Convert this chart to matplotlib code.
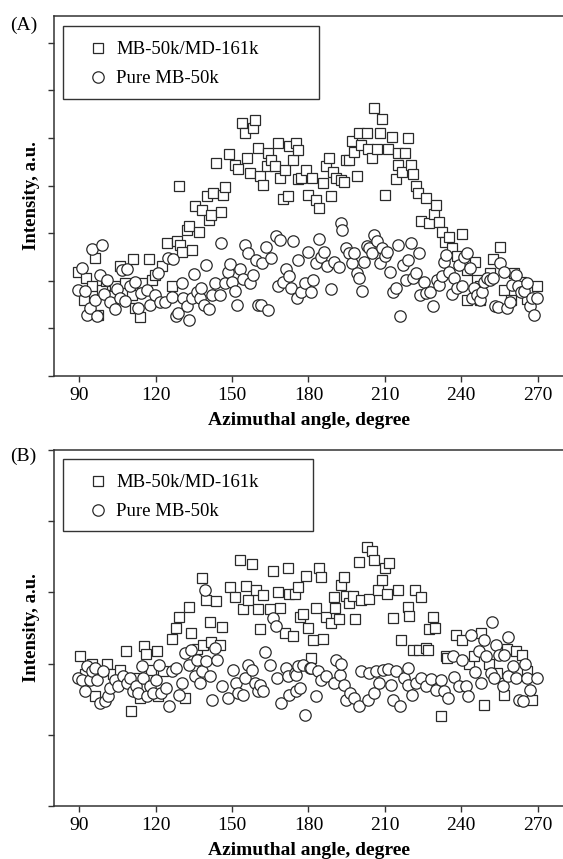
import matplotlib
matplotlib.use("Agg")
import matplotlib.pyplot as plt
from matplotlib.lines import Line2D
from matplotlib.patches import Rectangle

plt.rcParams['font.family'] = ['Liberation Serif', 'DejaVu Serif']

# ---------------- Panel A data ----------------
a_sq_angle = [89.4, 91.6, 92.7, 94.9, 96.2, 97.4, 98.8, 100.5, 102, 104, 106, 108, 110.6, 111, 111.9, 113.9,
              114.6, 117.2, 118.5, 119.8, 122.4, 124.4, 126.4, 128.4, 129.1, 129.7, 130.4, 132.3, 133, 134.3,
              135.3, 136.9, 138.3, 140, 141, 141.6, 142.6, 143.8, 145.5, 146.3, 147.1, 148.8, 151.1, 152.4,
              153.7, 155, 155.7, 157, 158.3, 159, 160.2, 160.9, 162.2, 163.5, 164.1, 165.4, 166.7, 168, 168.8,
              170, 170.6, 172, 172.4, 173.9, 175, 175.9, 175.9, 177, 178.9, 179.8, 181.5, 183.1, 184.1, 185.7,
              187, 188, 188.9, 189.6, 190.9, 192.8, 194.1, 194.7, 196, 197.1, 198, 198.9, 200, 200.6, 202.8,
              203.2, 205, 205.9, 207, 207.9, 208.9, 209.9, 211.2, 212.9, 214.3, 215.2, 215.2, 216.9, 218.1,
              219.2, 220.1, 221.2, 222.2, 223.1, 224.2, 226.1, 227.4, 229.2, 230, 231.3, 232.3, 233.5, 235.3,
              236.2, 238.2, 240.2, 242.2, 242.2, 245.3, 246.2, 247.4, 247.4, 251.5, 252.6, 255.4, 256.7, 259.5,
              260.6, 263.4, 266, 269.9]
a_sq_int = [2.19, 1.60, 2.05, 1.88, 2.47, 1.28, 1.81, 2.00, 1.70, 1.90, 2.30, 1.95, 1.70, 2.45, 1.42, 1.23,
            1.95, 2.45, 2.02, 2.12, 2.30, 2.79, 1.88, 2.84, 3.98, 2.75, 2.61, 3.07, 3.14, 2.65,
            3.56, 3.03, 3.49, 3.78, 3.28, 3.38, 3.85, 4.48, 3.45, 3.80, 3.96, 4.66, 4.43, 4.34,
            5.31, 5.11, 4.57, 4.26, 5.20, 5.38, 4.78, 4.19, 4.01, 4.40, 4.68, 4.54, 4.40, 4.90, 4.15,
            3.71, 4.33, 3.77, 4.82, 4.54, 4.89, 4.75, 4.13, 4.15, 4.33, 3.80, 4.15, 3.70, 3.52, 4.05,
            4.40, 4.57, 3.77, 4.29, 4.15, 4.12, 4.08, 4.54, 4.54, 4.93, 4.71, 4.19, 5.10, 4.85, 5.11,
            4.76, 4.57, 5.62, 4.76, 5.10, 5.40, 3.80, 4.76, 5.01, 4.13, 4.68, 4.43, 4.29, 4.69,
            4.99, 4.43, 4.24, 3.98, 3.85, 3.26, 3.73, 3.21, 3.40, 3.59, 3.24, 3.03, 2.82, 2.91,
            2.68, 2.51, 2.98, 2.23, 1.60, 2.40, 2.02, 1.60, 1.88, 2.16, 2.45, 2.70, 1.81, 1.60,
            2.16, 1.98, 1.61, 1.88]

a_ci_angle = [89.5, 90.9, 92.2, 92.9, 94.2, 94.9, 96.2, 97, 98.1, 99, 99.8, 100.7, 102, 104, 104.9, 106.1,
              106.6, 108, 108.8, 110, 112, 112.9, 114, 116.4, 117.7, 119.7, 121, 121.8, 123.7, 124.9, 126.4,
              126.9, 128, 128.8, 130.1, 130.7, 132.1, 133, 134.1, 135.1, 136, 137.3, 137.9, 138.9, 139.9, 141,
              141.9, 143.2, 145.2, 145.8, 147.1, 148.4, 149.1, 150.1, 151.1, 152.1, 153, 154.1, 155, 156.3,
              157.2, 158, 159.3, 160.2, 161.5, 161.9, 163.2, 164.1, 165.4, 167.1, 168, 168.9, 170, 171.3,
              172.3, 173.3, 173.9, 175.3, 175.9, 177.2, 178.5, 179.8, 181.1, 181.8, 183.1, 184.1, 185, 185.9,
              187.2, 188.9, 190.2, 191.9, 192.8, 193.2, 194.7, 196, 197.1, 198, 198.9, 200, 201.1, 201.9,
              202.8, 203.9, 205, 205.9, 207, 207.9, 209, 209.9, 210.8, 212.2, 213.2, 214.3, 215.2, 216.1,
              217.2, 218.3, 219.2, 220.1, 221.2, 222.2, 223.4, 224, 225.3, 226.3, 227.9, 229, 230.3, 231.3,
              232.3, 233.2, 234.2, 235.3, 236.2, 237.2, 238.2, 239.3, 240.2, 241.2, 242.2, 243.3, 244.2,
              245.1, 246.2, 247.2, 248.2, 249.1, 250.2, 251.5, 252.6, 253.4, 254.3, 255.4, 256.7, 257.8,
              259.1, 260.1, 261.4, 262.3, 263.4, 264.7, 266, 267.1, 268, 268.7, 269.7]
a_ci_int = [1.81, 2.27, 1.79, 1.28, 1.43, 2.67, 1.60, 1.25, 2.12, 2.75, 1.72, 2.02, 1.56, 1.41, 1.83, 1.64,
            2.23, 1.58, 2.24, 1.88, 1.98, 1.42, 1.74, 1.81, 1.49, 1.70, 2.17, 1.56, 1.56, 2.48, 1.66,
            2.46, 1.25, 1.32, 1.95, 1.64, 1.46, 1.18, 1.64, 2.14, 1.77, 1.64, 1.85, 1.49, 2.33, 1.41,
            1.70, 1.95, 1.70, 2.79, 1.95, 2.19, 2.35, 1.98, 1.79, 1.49, 2.25, 2.04, 2.75, 2.59,
            1.95, 2.12, 2.44, 1.49, 1.49, 2.37, 2.71, 1.39, 2.48, 2.94, 1.88, 2.86, 1.98, 2.25,
            2.10, 1.85, 2.84, 1.64, 2.44, 1.77, 1.95, 2.60, 1.77, 2.02, 2.37, 2.87, 2.49, 2.60,
            2.30, 1.82, 2.40, 2.28, 3.22, 3.07, 2.68, 2.58, 2.37, 2.58, 2.16, 2.05, 1.79, 2.40,
            2.73, 2.68, 2.58, 2.96, 2.84, 2.37, 2.68, 2.51, 2.61, 2.19, 1.77, 1.84, 2.75, 1.25,
            2.33, 2.02, 2.44, 2.79, 2.05, 2.17, 2.58, 1.70, 1.98, 1.75, 1.77, 1.47, 2.02, 1.91,
            2.09, 2.40, 2.54, 2.19, 1.72, 2.05, 1.84, 2.33, 1.88, 2.49, 2.58, 2.26, 1.63,
            1.84, 1.70, 1.60, 1.77, 1.98, 2.05, 2.02, 2.05, 1.47, 1.44, 2.37, 2.19, 1.42,
            1.56, 1.91, 2.12, 1.88, 1.77, 1.79, 1.95, 1.46, 1.63, 1.28, 1.63]

# ---------------- Panel B data ----------------
b_sq_angle = [90.2, 92, 95, 96.1, 98.5, 100.7, 103, 105.9, 108.2, 110.1, 112, 113.7, 115.3, 116.1, 118.3, 120.3,
              120.9, 123, 126.2, 128.1, 129.1, 131.4, 133.1, 134, 136, 138.2, 138.5, 139.9, 141.2, 141.8, 143.8,
              145.1, 146.2, 149, 151, 152.9, 154.2, 155.3, 156.2, 157.9, 159.5, 160.1, 161.1, 162.1, 164.7,
              166, 168, 168.9, 170.6, 171.9, 172.5, 173.9, 174.5, 175.8, 176.5, 178, 179.1, 179.9, 181.1,
              181.7, 183, 184, 185, 185.6, 186.9, 188.9, 190.2, 190.6, 191.9, 192.8, 194.1, 194.8, 196.1,
              197.4, 198.1, 200, 200.7, 202.9, 203.9, 205, 205.9, 207.2, 208.9, 210.2, 210.7, 211.8, 213.1,
              215, 216.3, 219, 219.6, 220.9, 222, 223.5, 224.2, 226.1, 226.8, 227.5, 228.8, 229.8, 232, 234,
              234.6, 237.9, 240.5, 243, 245, 247.7, 249.1, 251, 254.2, 256.9, 258, 261.5, 263.8, 266, 267.8]
b_sq_int = [2.10, 1.85, 2.00, 1.54, 1.90, 2.00, 1.85, 1.91, 2.18, 1.33, 1.80, 1.51, 2.25, 2.14, 1.91, 2.18,
            1.54, 1.90, 2.34, 2.50, 2.66, 1.51, 2.79, 2.43, 2.20, 3.20, 2.26, 2.90, 2.58, 2.31, 2.88,
            2.26, 2.52, 3.08, 2.94, 3.46, 2.76, 3.09, 2.90, 3.40, 3.04, 2.76, 2.49, 2.97, 2.76,
            3.30, 3.00, 2.78, 2.43, 3.34, 2.98, 2.39, 2.98, 3.08, 2.66, 2.70, 3.23, 2.50, 2.08,
            2.33, 2.78, 3.34, 3.22, 2.34, 2.66, 2.57, 2.94, 2.78, 2.62, 3.11, 3.22, 2.95, 2.85,
            2.95, 2.63, 3.42, 2.90, 3.64, 2.91, 3.58, 3.46, 3.03, 3.17, 3.34, 2.98, 3.41, 2.64,
            3.04, 2.33, 2.79, 2.67, 2.19, 3.04, 2.19, 2.94, 2.22, 2.19, 2.49, 2.65, 2.50, 1.26, 2.10,
            2.08, 2.40, 2.33, 2.00, 2.10, 2.43, 1.42, 2.00, 1.87, 1.56, 2.20, 2.17, 2.12, 1.90, 1.49]

b_ci_angle = [89.5, 90.9, 92.2, 92.8, 94.1, 94.8, 96.1, 96.7, 98, 99.1, 100, 101.3, 102, 103.9, 105.2, 107.2,
              108.5, 109.8, 111.1, 112.4, 113.1, 114.4, 115, 116.4, 117.6, 118.9, 120, 121.3, 122.2, 123.9,
              125.2, 126.2, 127.8, 129.1, 130.1, 131.4, 133.1, 134, 135.3, 136, 137.3, 138.2, 139.2, 139.9,
              141.2, 142.2, 143.1, 144, 146.2, 148.4, 150.3, 151.7, 152.3, 154.3, 154.9, 156.2, 157.9, 158.8,
              160.1, 160.8, 162.1, 163.1, 164.7, 166, 167.1, 167.6, 169.3, 171, 171.9, 172.5, 174.5, 174.9,
              175.2, 175.8, 176.5, 177.8, 178.8, 180.4, 181.1, 183, 183.7, 185, 186.9, 190.2, 190.9, 192.2,
              192.8, 194.1, 194.8, 196.4, 198, 200, 200.7, 203.3, 203.9, 205.9, 206.6, 207.8, 209.1, 211.1,
              212.4, 213.1, 214.4, 216, 217.6, 219, 219, 220.7, 222.3, 224.2, 226.2, 228.1, 230, 232, 233.3,
              235, 236.6, 237.3, 239.2, 240.5, 241.8, 242.5, 243.8, 245.3, 247.1, 247.7, 249, 249.7, 251.6,
              252, 253, 253.6, 255, 256.5, 256.9, 258.2, 258.2, 260.2, 261.4, 262.8, 264.1, 265.2, 266,
              267.2, 269.7]
b_ci_int = [1.80, 1.77, 1.61, 1.96, 1.77, 1.89, 1.94, 1.77, 1.44, 1.89, 1.47, 1.54, 1.66, 1.77, 1.68, 1.82,
            1.73, 1.80, 1.61, 1.68, 1.59, 1.96, 1.80, 1.54, 1.68, 1.59, 1.77, 1.98, 1.59, 1.66,
            1.40, 1.89, 1.94, 1.56, 1.73, 2.15, 1.98, 2.19, 1.82, 2.05, 1.73, 1.89, 3.04, 2.03,
            1.82, 1.49, 2.22, 2.05, 1.68, 1.51, 1.91, 1.73, 1.59, 1.56, 1.80, 1.98, 1.91, 1.73,
            1.61, 1.70, 1.61, 2.16, 1.98, 2.64, 2.53, 1.80, 1.44, 1.94, 1.82, 1.56, 1.87, 1.84,
            1.61, 1.96, 1.66, 1.98, 1.28, 1.94, 1.94, 1.55, 1.89, 1.77, 1.82, 1.73, 2.05, 1.84,
            2.00, 1.70, 1.49, 1.59, 1.51, 1.40, 1.89, 1.49, 1.87, 1.59, 1.89, 1.73, 1.91, 1.92,
            1.70, 1.49, 1.89, 1.40, 1.80, 1.94, 1.70, 1.56, 1.73, 1.80, 1.68, 1.78, 1.63, 1.77, 1.61,
            1.51, 2.10, 1.81, 1.68, 2.05, 1.69, 1.54, 2.40, 1.88, 2.17, 1.73, 2.33, 2.10, 1.87,
            2.59, 1.80, 2.26, 2.12, 1.68, 2.12, 2.38, 1.82, 1.96, 1.80, 1.49, 1.47, 2.00, 1.80,
            1.63, 1.80]

x_ticks = [90, 120, 150, 180, 210, 240, 270]
series_labels = ["MB-50k/MD-161k", "Pure MB-50k"]
panel_labels = ["(A)", "(B)"]
xlabel = "Azimuthal angle, degree"
ylabel = "Intensity, a.u."

W, H = 563, 859
fig = plt.figure(figsize=(W / 100, H / 100), dpi=100)

EC = '#2a2a2a'
SC = '#333333'


def px_axes(left, top, right, bottom):
    return fig.add_axes([left / W, 1 - bottom / H, (right - left) / W, (bottom - top) / H])


panels = [
    dict(box=(54, 16, 563, 376), ylim=(0, 7.56), yticks=range(0, 8),
         sq=(a_sq_angle, a_sq_int), ci=(a_ci_angle, a_ci_int),
         leg=(63, 26, 319, 99), lab_y=25),
    dict(box=(54, 450, 563, 806), ylim=(0, 5.0), yticks=range(0, 6),
         sq=(b_sq_angle, b_sq_int), ci=(b_ci_angle, b_ci_int),
         leg=(63, 459, 313, 531), lab_y=456),
]

for i, p in enumerate(panels):
    l, t, r, b = p['box']
    ax = px_axes(l, t, r, b)
    ax.plot(p['sq'][0], p['sq'][1], ls='none', marker='s', ms=7.6, mfc='white',
            mec=EC, mew=0.9, zorder=2)
    ax.plot(p['ci'][0], p['ci'][1], ls='none', marker='o', ms=8.2, mfc='white',
            mec=EC, mew=0.9, zorder=3)
    ax.set_xlim(80, 280)
    ax.set_ylim(*p['ylim'])
    ax.set_xticks(x_ticks)
    ax.set_yticks(list(p['yticks']))
    ax.set_yticklabels([])
    ax.spines['right'].set_visible(False)
    for s in ['left', 'bottom', 'top']:
        ax.spines[s].set_color(SC)
        ax.spines[s].set_linewidth(1.1)
    ax.tick_params(axis='both', direction='out', length=4, width=1.0, color=SC,
                   labelsize=14, pad=4)
    ax.tick_params(axis='x', top=False)
    ax.tick_params(axis='y', right=False)
    ax.set_xlabel(xlabel, fontsize=14, fontweight='bold', labelpad=6)
    ax.set_ylabel(ylabel, fontsize=13.5, fontweight='bold', labelpad=2)

    # legend frame
    lx0, ly0, lx1, ly1 = p['leg']
    rect = Rectangle(((lx0 - l) / (r - l), (b - ly1) / (b - t)),
                     (lx1 - lx0) / (r - l), (ly1 - ly0) / (b - t),
                     transform=ax.transAxes, facecolor='white', edgecolor=SC,
                     linewidth=1.0, zorder=5)
    ax.add_patch(rect)
    handles = [Line2D([], [], ls='none', marker='s', ms=7.6, mfc='white', mec=EC, mew=0.9),
               Line2D([], [], ls='none', marker='o', ms=8.2, mfc='white', mec=EC, mew=0.9)]
    leg = ax.legend(handles, series_labels, loc='upper left',
                    bbox_to_anchor=((89 - l) / (r - l), (b - (ly0 + 15)) / (b - t)),
                    frameon=False, borderpad=0, borderaxespad=0, handlelength=1.0,
                    handletextpad=0.45, labelspacing=0.65, fontsize=13.5)
    leg.set_zorder(6)

    fig.text(10 / W, 1 - p['lab_y'] / H, panel_labels[i], fontsize=14,
             ha='left', va='center')

fig.savefig('out.png', dpi=100)
